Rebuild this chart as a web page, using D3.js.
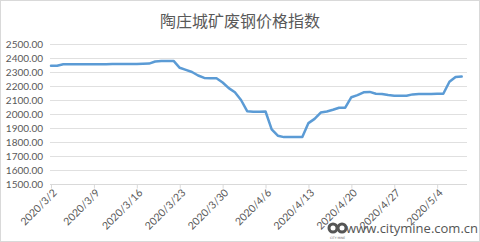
<!DOCTYPE html>
<html><head><meta charset="utf-8">
<script src="https://cdn.jsdelivr.net/npm/d3@7"></script>
<style>
html,body{margin:0;padding:0;background:#fff;}
svg{display:block;}
</style></head>
<body>
<script>
const title = "陶庄城矿废钢价格指数";
const startDate = "2020-03-02";
const values = [
 2345,2345,2355,2355,2355,2355,2355,2355,2355,2355,
 2357,2358,2358,2358,2358,2359,2360,2375,2379,2379,
 2379,2330,2315,2300,2275,2258,2255,2255,2225,2185,
 2155,2100,2020,2016,2016,2018,1890,1845,1835,1835,
 1835,1835,1935,1965,2010,2018,2030,2045,2045,2120,
 2135,2155,2158,2145,2143,2135,2130,2130,2130,2140,
 2143,2143,2143,2144,2145,2230,2265,2268
];
const yTicks = [1500,1600,1700,1800,1900,2000,2100,2200,2300,2400,2500];
const tickLabels = ["2020/3/2","2020/3/9","2020/3/16","2020/3/23","2020/3/30","2020/4/6","2020/4/13","2020/4/20","2020/4/27","2020/5/4"];
const watermark = "www.citymine.com.cn";

const W = 480, H = 242;
const svg = d3.select("body").append("svg").attr("width", W).attr("height", H);
svg.append("rect").attr("x",0.5).attr("y",0.5).attr("width",W-1).attr("height",H-1)
  .attr("fill","#fff").attr("stroke","#d9d9d9");

const parse = d3.timeParse("%Y-%m-%d");
const d0 = parse(startDate);
const data = values.map((v,i)=>({date: d3.timeDay.offset(d0,i), v}));

const x = d3.scaleTime().domain([d0, d3.timeDay.offset(d0, values.length-1)]).range([51, 461.7]);
const y = d3.scaleLinear().domain([1500,2500]).range([184,44]);

svg.append("text").attr("x",240).attr("y",27).attr("text-anchor","middle")
  .attr("font-family","'Noto Sans CJK SC'").attr("font-size",16).attr("fill","#595959").text(title);

// gridlines
svg.append("g").selectAll("line").data(yTicks).join("line")
  .attr("x1",50).attr("x2",467).attr("y1",d=>Math.round(y(d))+0.5).attr("y2",d=>Math.round(y(d))+0.5)
  .attr("stroke","#e0e0e0").attr("stroke-width",1);

// y labels
svg.append("g").selectAll("text").data(yTicks).join("text")
  .attr("x",43).attr("y",d=>y(d)+3.5).attr("text-anchor","end")
  .attr("font-family","Lato, 'Open Sans', sans-serif").attr("font-size",10).attr("fill","#595959")
  .text(d=>d3.format(".2f")(d));

// x axis
const tickDates = tickLabels.map((t,i)=>d3.timeDay.offset(d0, i*7));
const xAxis = d3.axisBottom(x).tickValues(tickDates).tickSize(4).tickFormat((d,i)=>tickLabels[i]);
const gx = svg.append("g").attr("transform","translate(0,184.5)").call(xAxis);
gx.select(".domain").attr("stroke","#d9d9d9").attr("d","M50,0H467");
gx.selectAll(".tick line").attr("stroke","#d9d9d9");
gx.selectAll(".tick text")
  .attr("font-family","Lato, 'Open Sans', sans-serif").attr("font-size",10.5).attr("fill","#595959")
  .attr("text-anchor","end").attr("dy",0).attr("y",0)
  .attr("transform","translate(6,9) rotate(-45)");

// line
svg.append("path").datum(data)
  .attr("fill","none").attr("stroke","#5b9bd5").attr("stroke-width",2.5)
  .attr("stroke-linejoin","round").attr("stroke-linecap","round")
  .attr("d", d3.line().x(d=>x(d.date)).y(d=>y(d.v)));

// watermark
const wm = svg.append("g");
wm.append("circle").attr("cx",333).attr("cy",228).attr("r",5.5).attr("fill","#555");
wm.append("circle").attr("cx",342).attr("cy",228).attr("r",5.5).attr("fill","#555");
wm.append("circle").attr("cx",333).attr("cy",228).attr("r",2.5).attr("fill","#fff");
wm.append("circle").attr("cx",342).attr("cy",228).attr("r",2.5).attr("fill","#fff");
wm.append("text").attr("x",337.5).attr("y",239).attr("text-anchor","middle").attr("font-size",3)
  .attr("font-family","'DejaVu Sans'").attr("fill","#666").text("CITY MINE");
wm.append("text").attr("x",478).attr("y",233).attr("text-anchor","end")
  .attr("font-family","'Open Sans', sans-serif").attr("font-size",13).attr("fill","#555").text(watermark);
</script>
</body></html>
